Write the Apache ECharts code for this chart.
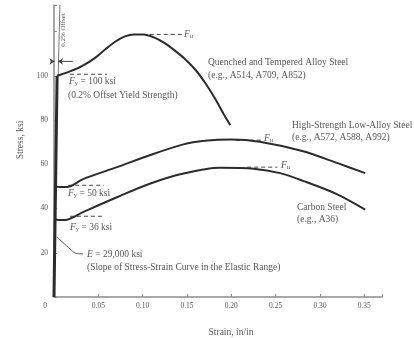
<!DOCTYPE html>
<html>
<head>
<meta charset="utf-8">
<script src="https://cdn.jsdelivr.net/npm/echarts@6/dist/echarts.min.js"></script>
<style>
  html, body { margin: 0; padding: 0; background: #fff; }
  #chart { width: 414px; height: 338px; }
</style>
</head>
<body>
<div id="chart"></div>
<script>
// strain (in/in) and stress (ksi)
const qtStrain = [0.0035, 0.008, 0.018, 0.032, 0.046, 0.058, 0.069, 0.080, 0.090, 0.101, 0.112, 0.124, 0.136, 0.148, 0.160, 0.171, 0.182, 0.191, 0.199]
const qtStress = [100, 100.6, 102, 104.5, 108, 112, 115.4, 117.8, 118.7, 118.7, 117.5, 115, 111.5, 107.5, 102.5, 96.5, 89.5, 83, 77.6]

const hslaStrain = [0.0017, 0.006, 0.0147, 0.0327, 0.071, 0.108, 0.146, 0.170, 0.200, 0.232, 0.280, 0.320, 0.351]
const hslaStress = [50, 49.7, 49.7, 53.3, 58.7, 64.1, 69.0, 70.6, 71.2, 70.2, 66, 60.5, 56]

const csStrain = [0.0012, 0.005, 0.0125, 0.0327, 0.071, 0.108, 0.146, 0.187, 0.225, 0.255, 0.281, 0.319, 0.351]
const csStress = [35, 34.8, 34.8, 38.4, 45.1, 51.2, 55.8, 58.4, 58.0, 56, 52.5, 46.5, 39.5]

// elastic range, E = 29,000 ksi
const elasticStrain = [0, 0.0035]
const elasticStress = [0, 100]

// dashed reference levels: [strain from, strain to, stress]
const fyQT = [0.018, 0.06, 100.7]
const fuQT = [0.108, 0.145, 118.7]
const fyHSLA = [0.016, 0.056, 50.5]
const fuHSLA = [0.205, 0.236, 70.9]
const fyCS = [0.018, 0.056, 36.5]
const fuCS = [0.218, 0.252, 58.7]

const xTicks = [0.05, 0.10, 0.15, 0.20, 0.25, 0.30, 0.35]
const yTicks = [20, 40, 60, 80, 100]

const pairs = (xs, ys) => xs.map((x, i) => [x, ys[i]])
const level = (d) => [[d[0], d[2]], [d[1], d[2]]]

const ink = '#2b2b2b'
const txt = '#555'
const serif = '"Liberation Serif", "DejaVu Serif", serif'
const fs = 9.5

const chart = echarts.init(document.getElementById('chart'))

function curve (data, width, smooth) {
  return {
    type: 'line',
    data: data,
    smooth: smooth === undefined ? 0.3 : smooth,
    symbol: 'none',
    lineStyle: { color: ink, width: width || 2 },
    z: 3
  }
}

function dashed (d) {
  return {
    type: 'line',
    data: level(d),
    symbol: 'none',
    lineStyle: { color: '#444', width: 1, type: [4, 3] },
    z: 2
  }
}

function label (x, y, text, size, extra) {
  const s = size || fs
  return Object.assign({
    type: 'text',
    x: x,
    y: y,
    style: {
      text: text,
      fill: txt,
      font: s + 'px ' + serif,
      verticalAlign: 'middle',
      rich: {
        i: { fontStyle: 'italic', fontSize: s, fontFamily: serif, fill: txt },
        s: { fontSize: 6.5, fontFamily: serif, fill: txt, padding: [5, 0, 0, 0] },
        n: { fontSize: s, fontFamily: serif, fill: txt }
      }
    }
  }, extra || {})
}

function plain (x, y, text, size, rot) {
  return {
    type: 'text',
    x: x,
    y: y,
    rotation: rot || 0,
    style: { text: text, fill: txt, font: size + 'px ' + serif, align: 'center', verticalAlign: 'middle' }
  }
}

const option = {
  animation: false,
  backgroundColor: '#fff',
  grid: { left: 54, right: 32, top: 5, bottom: 41 },
  xAxis: {
    type: 'value',
    min: 0,
    max: 0.37,
    interval: 0.05,
    splitLine: { show: false },
    axisLine: { lineStyle: { color: '#8a8a8a', width: 1.5 } },
    axisTick: { inside: true, length: 3, lineStyle: { color: '#8a8a8a' } },
    axisLabel: {
      margin: 5,
      color: txt,
      fontSize: 7.5,
      fontFamily: serif,
      formatter: (v) => xTicks.some((t) => Math.abs(t - v) < 1e-6) ? v.toFixed(2) : ''
    }
  },
  yAxis: {
    type: 'value',
    min: 0,
    max: 132,
    interval: 20,
    splitLine: { show: false },
    axisLine: { lineStyle: { color: '#8a8a8a', width: 1.5 } },
    axisTick: { inside: true, length: 3, lineStyle: { color: '#8a8a8a' } },
    axisLabel: {
      margin: 6,
      color: txt,
      fontSize: 7.5,
      fontFamily: serif,
      formatter: (v) => yTicks.indexOf(v) >= 0 ? String(v) : ''
    }
  },
  series: [
    curve(pairs(elasticStrain, elasticStress), 3, false),
    {
      // 0.2% offset line
      type: 'line',
      data: [[0.0047, 100], [0.0067, 132]],
      symbol: 'none',
      lineStyle: { color: '#777', width: 1 }
    },
    {
      type: 'line',
      data: [{ value: [-0.012, 106.5], symbol: 'none' }, { value: [0.0005, 106.5], symbol: 'arrow', symbolRotate: -90, symbolSize: 5 }],
      clip: false,
      lineStyle: { color: '#444', width: 1 },
      itemStyle: { color: '#444' }
    },
    {
      type: 'line',
      data: [{ value: [0.021, 106.5], symbol: 'none' }, { value: [0.0045, 106.5], symbol: 'arrow', symbolRotate: 90, symbolSize: 5 }],
      clip: false,
      lineStyle: { color: '#444', width: 1 },
      itemStyle: { color: '#444' }
    },
    curve(pairs(qtStrain, qtStress)),
    curve(pairs(hslaStrain, hslaStress)),
    curve(pairs(csStrain, csStress)),
    dashed(fyQT),
    dashed(fuQT),
    dashed(fyHSLA),
    dashed(fuHSLA),
    dashed(fyCS),
    dashed(fuCS)
  ],
  graphic: [
    plain(45, 306, '0', 7.5),
    plain(20, 140, 'Stress, ksi', 9.5, Math.PI / 2),
    plain(231, 332, 'Strain, in/in', 9.5),
    plain(63, 30, '0.2% Offset', 7, Math.PI / 2),
    label(184, 34, '{i|F}{s|u}'),
    label(208, 62, 'Quenched and Tempered Alloy Steel'),
    label(208, 75, '(e.g., A514, A709, A852)'),
    label(69, 81, '{i|F}{s|y}{n| = 100 ksi}'),
    label(68, 95, '(0.2% Offset Yield Strength)'),
    label(292, 125, 'High-Strength Low-Alloy Steel'),
    label(292, 137, '(e.g., A572, A588, A992)'),
    label(264, 138, '{i|F}{s|u}'),
    label(68, 193, '{i|F}{s|y}{n| = 50 ksi}'),
    label(281, 165, '{i|F}{s|u}'),
    label(70, 227, '{i|F}{s|y}{n| = 36 ksi}'),
    label(297, 207, 'Carbon Steel'),
    label(297, 219, '(e.g., A36)'),
    label(87, 254, '{i|E}{n| = 29,000 ksi}'),
    label(87, 267, '(Slope of Stress-Strain Curve in the Elastic Range)'),
    {
      type: 'polyline',
      shape: { points: [[57, 237], [70, 249], [75, 253], [83, 254]], smooth: 0.3 },
      style: { stroke: '#555', lineWidth: 1, fill: null }
    }
  ]
}

chart.setOption(option)
</script>
</body>
</html>
